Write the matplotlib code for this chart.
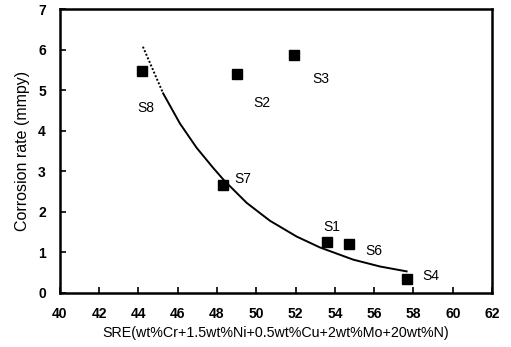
import matplotlib
matplotlib.use("Agg")
import matplotlib.pyplot as plt

plt.rcParams['font.family'] = ['Liberation Sans', 'DejaVu Sans']

# Data points
samples = ["S1", "S2", "S3", "S4", "S6", "S7", "S8"]
sre = [53.6, 49.0, 51.9, 57.65, 54.7, 48.3, 44.2]
rate = [1.26, 5.40, 5.87, 0.35, 1.20, 2.65, 5.46]

# Label anchor coordinates
label_x = [53.85, 50.3, 53.3, 58.9, 56.0, 49.3, 44.4]
label_y = [1.63, 4.68, 5.27, 0.42, 1.04, 2.80, 4.56]

# Fitted curve
curve_dot_x = [44.23, 44.67, 45.26]
curve_dot_y = [6.07, 5.58, 4.92]
curve_x = [45.26, 46.11, 46.96, 47.81, 48.35, 49.51, 50.69, 52.05, 53.24, 54.93, 56.30, 57.65]
curve_y = [4.92, 4.18, 3.58, 3.08, 2.78, 2.22, 1.78, 1.39, 1.12, 0.82, 0.65, 0.53]

xticks = list(range(40, 63, 2))
yticks = list(range(0, 8))

fig = plt.figure(figsize=(5.11, 3.47), dpi=100)
ax = fig.add_axes([0.117, 0.156, 0.846, 0.818])

ax.plot(curve_dot_x, curve_dot_y, color='black', lw=1.4, ls=(0, (1, 1)))
ax.plot(curve_x, curve_y, color='black', lw=1.4)
ax.plot(sre, rate, 's', color='black', markersize=7.5, ls='none')

for s, lx, ly in zip(samples, label_x, label_y):
    ax.text(lx, ly, s, ha='center', va='center', fontsize=10)

ax.set_xlim(40, 62)
ax.set_ylim(0, 7)
ax.set_xticks(xticks)
ax.set_yticks(yticks)
ax.tick_params(direction='in', length=4, width=1.2, labelsize=10)
ax.tick_params(axis='x', pad=10)
ax.tick_params(axis='y', pad=10)
for lab in ax.get_xticklabels() + ax.get_yticklabels():
    lab.set_fontweight('bold')
for sp in ax.spines.values():
    sp.set_linewidth(1.8)

ax.set_xlabel("SRE(wt%Cr+1.5wt%Ni+0.5wt%Cu+2wt%Mo+20wt%N)", fontsize=10.3, labelpad=4)
ax.set_ylabel("Corrosion rate (mmpy)", fontsize=11.5, labelpad=6)

fig.savefig("out.png", dpi=100)
